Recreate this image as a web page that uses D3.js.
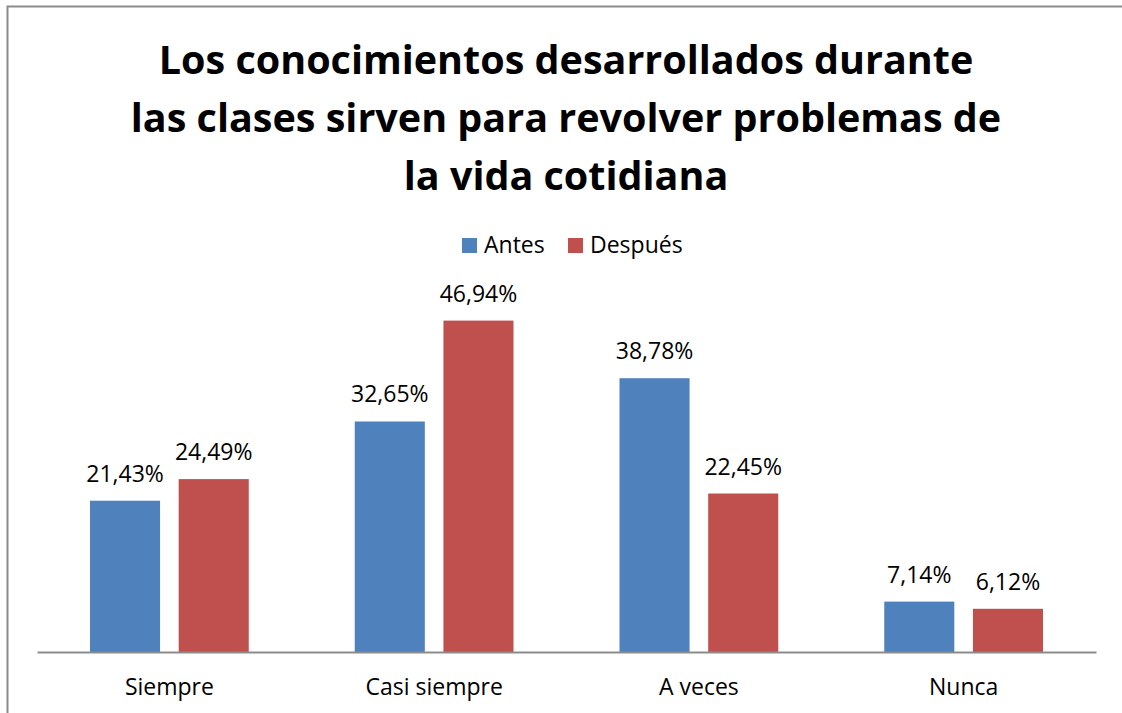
<!DOCTYPE html>
<html>
<head>
<meta charset="utf-8">
<script src="https://cdn.jsdelivr.net/npm/d3@7"></script>
<style>
  body { margin: 0; background: #fff; }
  text { font-family: "Open Sans", "Noto Sans", sans-serif; fill: #000; }
</style>
</head>
<body>
<script>
// chart data
var categories = ["Siempre", "Casi siempre", "A veces", "Nunca"];
var seriesNames = ["Antes", "Después"];
var antes = [21.43, 32.65, 38.78, 7.14];
var despues = [24.49, 46.94, 22.45, 6.12];
var colors = ["#4F81BD", "#C0504D"];
var titleLines = ["Los conocimientos desarrollados durante",
                  "las clases sirven para revolver problemas de",
                  "la vida cotidiana"];

var W = 1122, H = 713;
var margin = {top: 299, right: 26, bottom: 61, left: 37};
var width = W - margin.left - margin.right,
    height = H - margin.top - margin.bottom;

var svg = d3.select("body").append("svg")
  .attr("width", W)
  .attr("height", H);

// outer frame (cut off at right/bottom like the picture)
svg.append("rect")
  .attr("x", 7.5).attr("y", 6.5)
  .attr("width", W + 20).attr("height", H + 20)
  .attr("fill", "none")
  .attr("stroke", "#8c8c8c")
  .attr("stroke-width", 2);

// title
var title = svg.append("text")
  .attr("text-anchor", "middle")
  .style("font-weight", "bold")
  .style("font-size", "39.5px");
titleLines.forEach(function (t, i) {
  title.append("tspan")
    .attr("x", 566)
    .attr("y", 74 + i * 58)
    .text(t);
});

var data = categories.map(function (c, i) {
  return {cat: c, values: [antes[i], despues[i]]};
});

var x0 = d3.scaleBand().domain(categories).range([0, width]).paddingInner(0).paddingOuter(0);
var x1 = d3.scaleBand().domain(seriesNames).range([53, x0.bandwidth() - 53]).paddingInner(0.21);
var y = d3.scaleLinear().domain([0, 50]).range([height, 0]);

var g = svg.append("g").attr("transform", "translate(" + margin.left + "," + margin.top + ")");

var groups = g.selectAll(".cat")
  .data(data)
  .enter().append("g")
  .attr("class", "cat")
  .attr("transform", function (d) { return "translate(" + x0(d.cat) + ",0)"; });

groups.selectAll("rect")
  .data(function (d) { return d.values.map(function (v, i) { return {s: seriesNames[i], v: v, i: i}; }); })
  .enter().append("rect")
  .attr("x", function (d) { return x1(d.s); })
  .attr("y", function (d) { return y(d.v); })
  .attr("width", x1.bandwidth())
  .attr("height", function (d) { return height - y(d.v); })
  .attr("fill", function (d) { return colors[d.i]; });

groups.selectAll(".lbl")
  .data(function (d) { return d.values.map(function (v, i) { return {s: seriesNames[i], v: v}; }); })
  .enter().append("text")
  .attr("class", "lbl")
  .attr("text-anchor", "middle")
  .style("font-size", "23px")
  .attr("x", function (d) { return x1(d.s) + x1.bandwidth() / 2; })
  .attr("y", function (d) { return y(d.v) - 19; })
  .text(function (d) { return d.v.toFixed(2).replace(".", ",") + "%"; });

// x axis
var xAxis = d3.axisBottom(x0).tickSize(0).tickPadding(43);
var ax = g.append("g")
  .attr("transform", "translate(0," + height + ")")
  .call(xAxis);
ax.select(".domain").attr("stroke", "#8c8c8c").attr("stroke-width", 2);
ax.selectAll("text")
  .attr("dy", 0)
  .style("font-size", "23px")
  .style("font-family", "'Open Sans', 'Noto Sans', sans-serif")
  .attr("fill", "#000");

// legend
var legend = svg.append("g").attr("transform", "translate(462,238)");
var legX = [0, 106];
seriesNames.forEach(function (s, i) {
  legend.append("rect")
    .attr("x", legX[i]).attr("y", 0)
    .attr("width", 15).attr("height", 15)
    .attr("fill", colors[i]);
  legend.append("text")
    .attr("x", legX[i] + 22).attr("y", 15)
    .style("font-size", "23px")
    .text(s);
});
</script>
</body>
</html>
